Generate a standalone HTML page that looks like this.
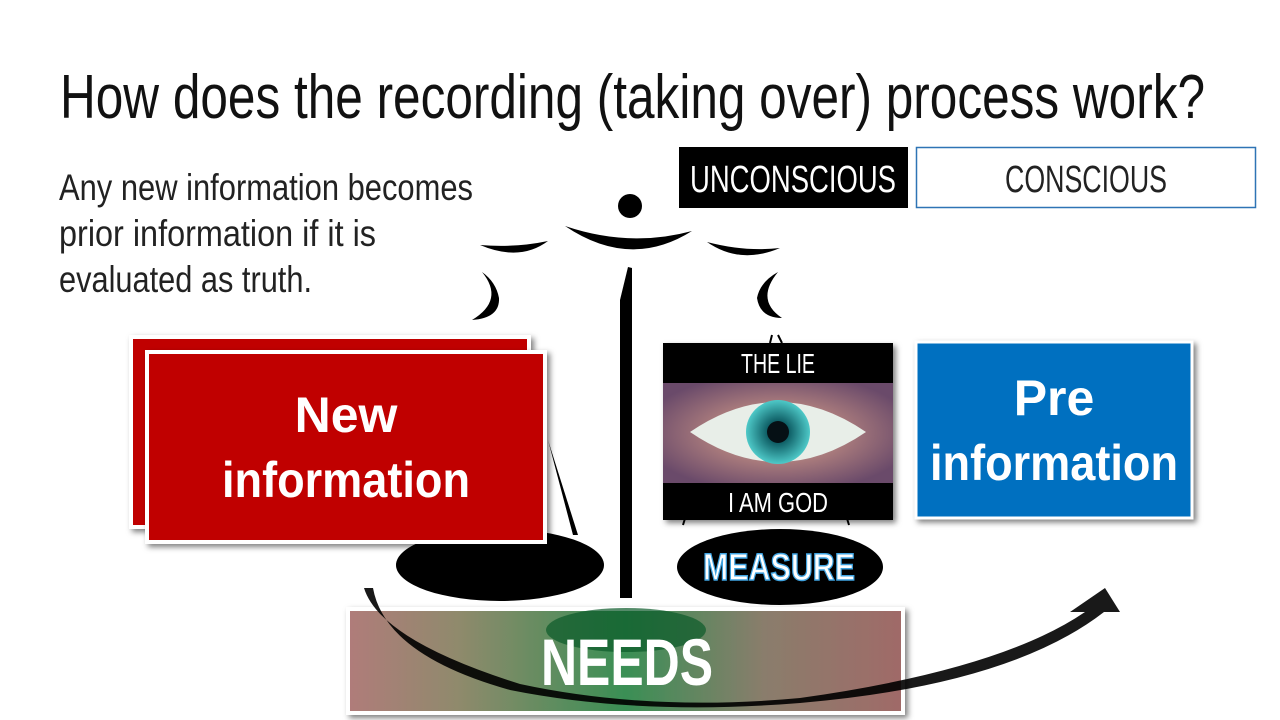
<!DOCTYPE html>
<html><head><meta charset="utf-8"><style>
html,body{margin:0;padding:0;background:#fff}
svg{display:block}
text{font-family:"Liberation Sans Narrow","Liberation Sans",sans-serif}
</style></head><body>
<svg width="1280" height="720" viewBox="0 0 1280 720" xmlns="http://www.w3.org/2000/svg">
<defs>
<linearGradient id="needs" x1="0" x2="1" y1="0" y2="0">
<stop offset="0" stop-color="#b07c7a"/><stop offset="0.2" stop-color="#8f8a6c"/><stop offset="0.5" stop-color="#3a8f55"/><stop offset="0.75" stop-color="#8a7d6c"/><stop offset="1" stop-color="#a06a68"/>
</linearGradient>
<radialGradient id="eye" cx="0.5" cy="0.5" r="0.6">
<stop offset="0" stop-color="#cfd8c8"/><stop offset="0.5" stop-color="#a87a7c"/><stop offset="1" stop-color="#6a4a6a"/>
</radialGradient>
<radialGradient id="iris" cx="0.5" cy="0.5" r="0.5">
<stop offset="0" stop-color="#0a2a30"/><stop offset="0.35" stop-color="#0f5f66"/><stop offset="1" stop-color="#4ec9c8"/>
</radialGradient>
<filter id="sh" x="-10%" y="-10%" width="130%" height="130%"><feDropShadow dx="3" dy="3" stdDeviation="3" flood-opacity="0.5"/></filter>
</defs>

<text x="60" y="118" font-size="62" textLength="1145" lengthAdjust="spacingAndGlyphs" fill="#111" font-weight="300">How does the recording (taking over) process work?</text>

<text x="59" y="200" font-size="37" textLength="414" lengthAdjust="spacingAndGlyphs" fill="#222">Any new information becomes</text>
<text x="59" y="246" font-size="37" textLength="317" lengthAdjust="spacingAndGlyphs" fill="#222">prior information if it is</text>
<text x="59" y="292" font-size="37" textLength="253" lengthAdjust="spacingAndGlyphs" fill="#222">evaluated as truth.</text>

<rect x="679" y="147" width="229" height="61" fill="#000"/>
<text x="793" y="192" font-size="38" text-anchor="middle" textLength="206" lengthAdjust="spacingAndGlyphs" fill="#fff">UNCONSCIOUS</text>
<rect x="916.5" y="147.5" width="339" height="60" fill="#fff" stroke="#2e74b5" stroke-width="1.5"/>
<text x="1086" y="192" font-size="38" text-anchor="middle" textLength="162" lengthAdjust="spacingAndGlyphs" fill="#222">CONSCIOUS</text>

<!-- scale -->
<circle cx="630" cy="206" r="12" fill="#000"/>
<path d="M565 226 Q630 270 692 231 Q630 248 565 226Z" fill="#000"/>
<path d="M480 245 Q520 262 548 241 Q515 248 480 245Z" fill="#000"/>
<path d="M707 242 Q740 265 780 248 Q745 252 707 242Z" fill="#000"/>
<path d="M482 272 Q505 300 472 320 Q500 318 499 298 Q496 282 482 272Z" fill="#000"/>
<path d="M778 272 Q755 300 782 318 Q760 318 757 298 Q760 282 778 272Z" fill="#000"/>
<path d="M628 267 L620 300 L620 598 L632 598 L632 268Z" fill="#000"/>
<ellipse cx="500" cy="565" rx="104" ry="36" fill="#000"/>
<path d="M548 440 L578 535 L573 535Z" fill="#000"/>

<!-- New information -->
<rect x="131" y="337" width="398" height="190" fill="#c00000" stroke="#fff" stroke-width="4" filter="url(#sh)"/>
<rect x="147" y="352" width="398" height="190" fill="#c00000" stroke="#fff" stroke-width="4" filter="url(#sh)"/>
<text x="346" y="432" font-size="50" font-weight="bold" text-anchor="middle" fill="#fff">New</text>
<text x="346" y="497" font-size="50" font-weight="bold" text-anchor="middle" textLength="248" lengthAdjust="spacingAndGlyphs" fill="#fff">information</text>

<!-- Eye -->
<path d="M683 525 L687 512 M845 512 L849 525 M770 343 L772 335 M778 335 L782 343" stroke="#000" stroke-width="2"/>
<rect x="663" y="343" width="230" height="177" fill="#000" filter="url(#sh)"/>
<rect x="663" y="383" width="230" height="100" fill="url(#eye)"/>
<path d="M690 432 Q778 372 866 432 Q778 492 690 432Z" fill="#e8eee8"/>
<circle cx="778" cy="432" r="32" fill="url(#iris)"/>
<circle cx="778" cy="432" r="11" fill="#061015"/>
<text x="778" y="373" font-size="28" text-anchor="middle" textLength="74" lengthAdjust="spacingAndGlyphs" fill="#fff">THE LIE</text>
<text x="778" y="512" font-size="28" text-anchor="middle" textLength="100" lengthAdjust="spacingAndGlyphs" fill="#fff">I AM GOD</text>

<ellipse cx="780" cy="567" rx="103" ry="38" fill="#000"/>
<text x="779" y="580" font-size="38" font-weight="bold" text-anchor="middle" textLength="152" lengthAdjust="spacingAndGlyphs" fill="#fff" stroke="#3fa3e0" stroke-width="1.5">MEASURE</text>

<!-- Pre information -->
<rect x="916" y="342" width="276" height="176" fill="#0070c0" stroke="#fff" stroke-width="3" filter="url(#sh)"/>
<text x="1054" y="415" font-size="50" font-weight="bold" text-anchor="middle" fill="#fff">Pre</text>
<text x="1054" y="480" font-size="50" font-weight="bold" text-anchor="middle" textLength="248" lengthAdjust="spacingAndGlyphs" fill="#fff">information</text>

<!-- Needs -->
<rect x="348" y="609" width="555" height="104" fill="url(#needs)" stroke="#fff" stroke-width="4" filter="url(#sh)"/>
<ellipse cx="626" cy="630" rx="80" ry="22" fill="#0b5a2a" opacity="0.7"/>
<text x="627" y="685" font-size="66" font-weight="bold" text-anchor="middle" textLength="172" lengthAdjust="spacingAndGlyphs" fill="#fff">NEEDS</text>

<!-- arrow -->
<path d="M364 588 Q380 640 520 684 Q650 712 800 698 Q1000 670 1085 612 L1070 612 L1105 588 L1120 612 L1104 612 Q1010 685 800 703 Q640 716 510 690 Q385 655 373 588Z" fill="#000" opacity="0.9"/>
</svg>
</body></html>
